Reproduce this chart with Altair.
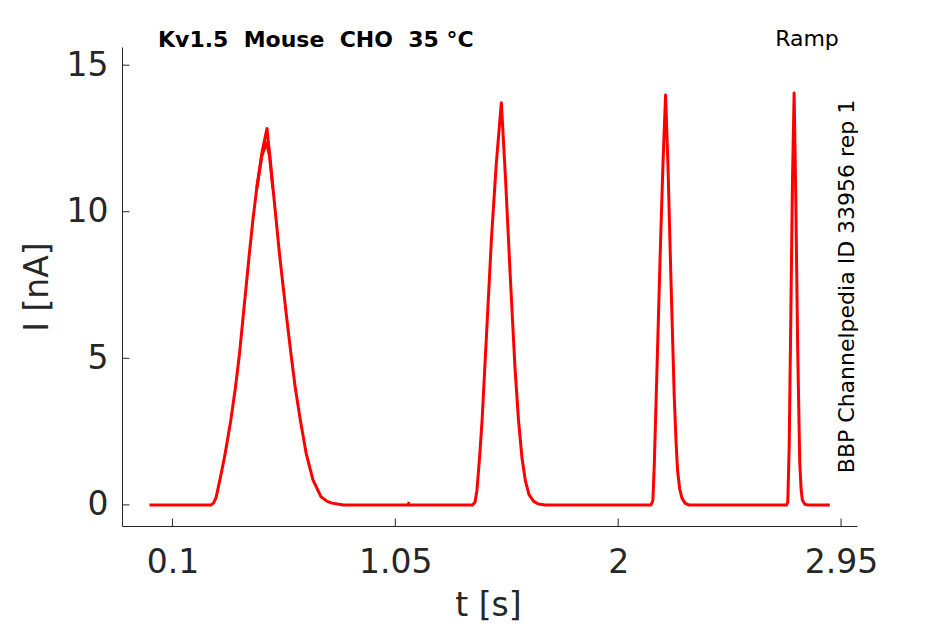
import altair as alt
import pandas as pd

# ---- data (t in s, I in nA) ----
trace_a_t = [
    0.002, 0.265, 0.275, 0.286, 0.296, 0.310, 0.325, 0.349, 0.369, 0.386, 0.400, 0.414,
    0.428, 0.443, 0.460, 0.481, 0.503, 0.514, 0.528, 0.542, 0.556, 0.572, 0.588, 0.605,
    0.623, 0.645, 0.670, 0.699, 0.733, 0.760, 0.780, 0.830,
    1.105, 1.107, 1.109,
    1.380, 1.390, 1.398, 1.410, 1.420, 1.440, 1.460, 1.480, 1.502, 1.520, 1.540, 1.560,
    1.575, 1.590, 1.605, 1.620, 1.640, 1.660, 1.690,
    2.140, 2.148, 2.154, 2.166, 2.180, 2.191, 2.202, 2.212, 2.225, 2.239, 2.247, 2.253,
    2.262, 2.272, 2.285, 2.300,
    2.718, 2.723, 2.729, 2.736, 2.743, 2.750, 2.757, 2.765, 2.774, 2.780, 2.785, 2.795,
    2.805, 2.902,
]
trace_a_i = [
    0.00, 0.00, 0.06, 0.25, 0.62, 1.15, 1.76, 2.90, 4.03, 5.17, 6.31, 7.44,
    8.58, 9.72, 10.85, 11.99, 12.84, 11.99, 10.85, 9.72, 8.58, 7.44, 6.31, 5.17,
    4.03, 2.90, 1.76, 0.85, 0.28, 0.12, 0.06, 0.00,
    0.00, 0.06, 0.00,
    0.00, 0.10, 0.50, 1.70, 2.90, 6.00, 9.10, 11.60, 13.72, 11.10, 7.80, 4.70,
    2.90, 1.60, 0.80, 0.35, 0.12, 0.03, 0.00,
    0.00, 0.15, 1.40, 4.80, 8.80, 11.65, 13.98, 11.65, 7.67, 3.69, 2.10, 1.19,
    0.55, 0.23, 0.06, 0.00,
    0.00, 0.10, 2.00, 6.50, 11.10, 14.05, 10.50, 5.40, 1.42, 0.50, 0.17, 0.03,
    0.00, 0.00,
]
# second repetition, visible only where it separates near the first apex
trace_b_t = [0.460, 0.481, 0.501, 0.514, 0.528]
trace_b_i = [10.80, 11.90, 12.35, 11.90, 10.80]

x_ticks = [0.1, 1.05, 2, 2.95]
y_ticks = [0, 5, 10, 15]

title_text = "Kv1.5\u00a0 Mouse\u00a0 CHO\u00a0 35 °C"
protocol_text = "Ramp"
side_text = "BBP Channelpedia ID 33956 rep 1"

# ---- layout ----
W, H = 735, 479
INK = "#262626"
FONT = "DejaVu Sans"
FS = 33

df = pd.concat([
    pd.DataFrame({"t": trace_a_t, "I": trace_a_i, "rep": "a"}),
    pd.DataFrame({"t": trace_b_t, "I": trace_b_i, "rep": "b"}),
], ignore_index=True)
df["order"] = range(len(df))

xscale = alt.Scale(domain=[-0.115, 3.018], nice=False, zero=False)
yscale = alt.Scale(domain=[-0.72, 15.62], nice=False, zero=False)

x_axis = alt.Axis(
    values=x_ticks, labelExpr="'' + datum.value", title="t [s]", grid=False, ticks=False, tickSize=0,
    labelFontSize=FS, labelPadding=20, labelColor=INK, labelFont=FONT,
    titleFontSize=FS, titleFontWeight="normal", titleColor=INK, titleFont=FONT,
    titleX=366, titleY=89, titleBaseline="alphabetic", titleAlign="center",
    domainColor=INK, domainWidth=1, labelFlush=False, labelOverlap=False,
)
y_axis = alt.Axis(
    values=y_ticks, labelExpr="'' + datum.value", title="I [nA]", grid=False, ticks=False, tickSize=0,
    labelFontSize=FS, labelPadding=14, labelColor=INK, labelFont=FONT,
    titleFontSize=FS, titleFontWeight="normal", titleColor=INK, titleFont=FONT,
    titleX=-75, titleY=H / 2, titleAngle=270, titleBaseline="alphabetic", titleAlign="center",
    domainColor=INK, domainWidth=1, labelFlush=False, labelOverlap=False,
)

lines = alt.Chart(df).mark_line(color="#ff0000", strokeWidth=3, strokeJoin="round").encode(
    x=alt.X("t:Q", scale=xscale, axis=x_axis),
    y=alt.Y("I:Q", scale=yscale, axis=y_axis),
    detail="rep:N",
    order="order:Q",
)

xt = alt.Chart(pd.DataFrame({"t": x_ticks})).mark_rule(color=INK, strokeWidth=1).encode(
    x=alt.X("t:Q", scale=xscale, axis=x_axis),
    y=alt.value(H - 7.5),
    y2=alt.value(H),
)
yt = alt.Chart(pd.DataFrame({"I": y_ticks})).mark_rule(color=INK, strokeWidth=1).encode(
    y=alt.Y("I:Q", scale=yscale, axis=y_axis),
    x=alt.value(0),
    x2=alt.value(7.5),
)

title_mark = alt.Chart(pd.DataFrame({"s": [title_text]})).mark_text(
    font=FONT, fontSize=22, fontWeight="bold", color="#000000", align="left", baseline="alphabetic"
).encode(text="s:N", x=alt.value(36), y=alt.value(0))

protocol_mark = alt.Chart(pd.DataFrame({"s": [protocol_text]})).mark_text(
    font=FONT, fontSize=22, color="#000000", align="center", baseline="alphabetic"
).encode(text="s:N", x=alt.value(685), y=alt.value(-1))

side_mark = alt.Chart(pd.DataFrame({"s": [side_text]})).mark_text(
    font=FONT, fontSize=22, color="#000000", align="center", baseline="alphabetic", angle=270
).encode(text="s:N", x=alt.value(732), y=alt.value(H / 2))

chart = alt.layer(lines, xt, yt, title_mark, protocol_mark, side_mark).properties(
    width=W, height=H,
    autosize=alt.AutoSizeParams(type="none"),
    padding={"left": 114, "top": 39, "right": 70, "bottom": 96},
    background="white",
).configure_view(stroke=None)

chart.save("out.html", embed_options={"renderer": "svg", "actions": False})
